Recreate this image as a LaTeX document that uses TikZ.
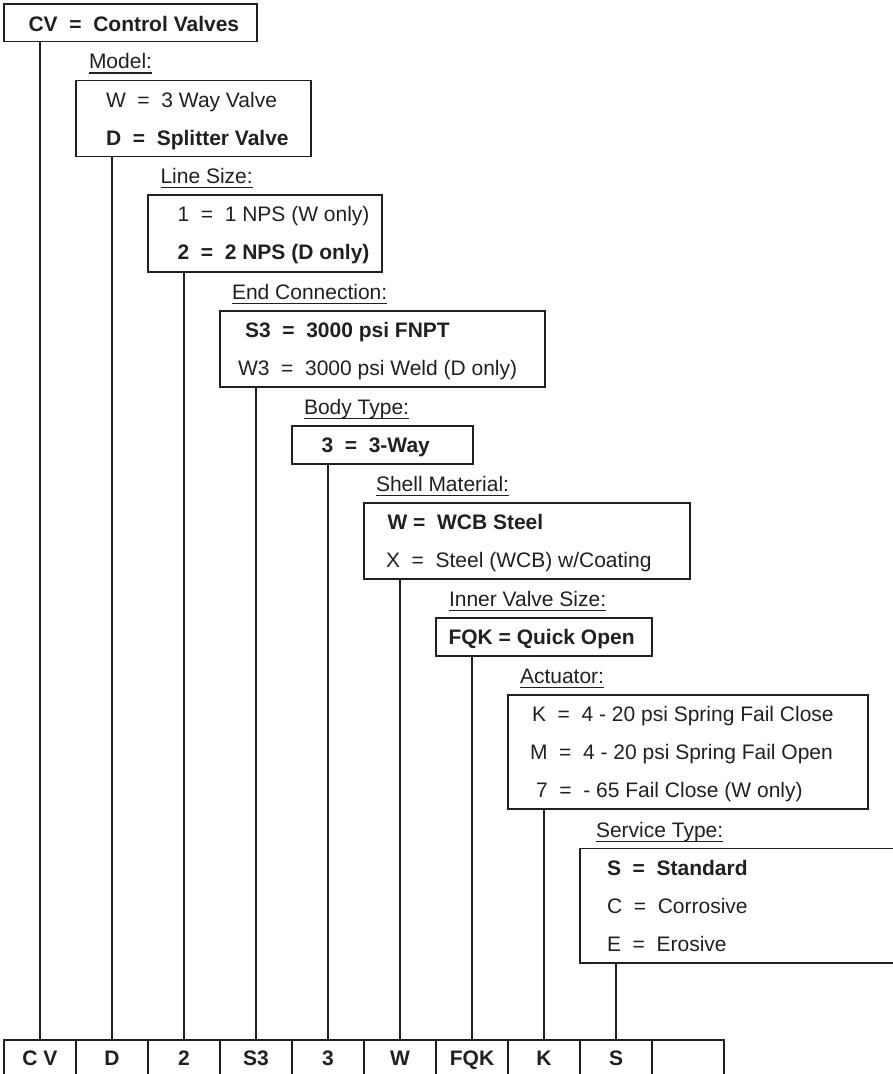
\documentclass[tikz,border=0pt]{standalone}
\usepackage{fontspec}
\setmainfont{Liberation Sans}
\definecolor{ink}{HTML}{231F20}
\newcommand\ulab[1]{\setbox0\hbox{#1}\rlap{\rule[-5pt]{\wd0}{1.2pt}}\box0}
\newcommand\eq{\ \ =\ \ }
\begin{document}
\begin{tikzpicture}[x=1pt,y=-1pt,
  every node/.style={font=\fontsize{21}{25}\selectfont, text=ink, inner sep=0pt, outer sep=0pt},
  box/.style={draw=ink, line width=1.2pt, anchor=north west},
  opbox/.style={anchor=north west},
  cell/.style={draw=ink, line width=1.2pt, anchor=north west, minimum width=72, minimum height=36, text height=15, text depth=0pt, font=\fontsize{21}{25}\selectfont\bfseries},
  txt/.style={anchor=base west},
  lab/.style={anchor=base west},
  wire/.style={draw=ink, line width=1.2pt}]
\useasboundingbox (0,0) rectangle (893,1074);

% boxes
\node[box, minimum width=253, minimum height=37.5] (b1) at (4,4) {};
\node[txt] (t1) at (28.5,31.5) {\bfseries CV\eq Control Valves};

\node[lab] (l2) at (89,68.5) {\ulab{Model:}};
\node[box, minimum width=235, minimum height=76] (b2) at (76,80.5) {};
\node[txt] (t2a) at (106,107) {W\eq 3 Way Valve};
\node[txt] (t2b) at (106,145) {\bfseries D\eq Splitter Valve};

\node[lab] (l3) at (160.5,183) {\ulab{Line Size:}};
\node[box, minimum width=234, minimum height=77] (b3) at (148,195) {};
\node[txt] (t3a) at (177.5,221.5) {1\eq 1 NPS (W only)};
\node[txt] (t3b) at (177.5,259.5) {\bfseries 2\eq 2 NPS (D only)};

\node[lab] (l4) at (232,299) {\ulab{End Connection:}};
\node[box, minimum width=325, minimum height=76] (b4) at (220,311) {};
\node[txt] (t4a) at (245,337.5) {\bfseries S3\eq 3000 psi FNPT};
\node[txt] (t4b) at (238,375.5) {W3\eq 3000 psi Weld (D only)};

\node[lab] (l5) at (304,414) {\ulab{Body Type:}};
\node[box, minimum width=181, minimum height=38] (b5) at (292,426) {};
\node[txt] (t5) at (321.5,452.5) {\bfseries 3\eq 3-Way};

\node[lab] (l6) at (376,491) {\ulab{Shell Material:}};
\node[box, minimum width=326, minimum height=76] (b6) at (364,503) {};
\node[txt] (t6a) at (387.5,529.5) {\bfseries W =\ \ WCB Steel};
\node[txt] (t6b) at (386,567.5) {X\eq Steel (WCB) w/Coating};

\node[lab] (l7) at (449,606) {\ulab{Inner Valve Size:}};
\node[box, minimum width=216, minimum height=38] (b7) at (436,618) {};
\node[txt] (t7) at (448.5,644.5) {\bfseries FQK = Quick Open};

\node[lab] (l8) at (520,683) {\ulab{Actuator:}};
\node[box, minimum width=360, minimum height=114] (b8) at (508,695) {};
\node[txt] (t8a) at (532,721.5) {K\eq 4 - 20 psi Spring Fail Close};
\node[txt] (t8b) at (530,759.5) {M\eq 4 - 20 psi Spring Fail Open};
\node[txt] (t8c) at (536,797.5) {7\eq - 65 Fail Close (W only)};

\node[lab] (l9) at (596,837) {\ulab{Service Type:}};
\node[opbox, minimum width=320, minimum height=114.5] (b9) at (580,848.5) {};
\draw[wire] (b9.north east) -- (b9.north west) -- (b9.south west) -- (b9.south east);
\node[txt] (t9a) at (607,875) {\bfseries S\eq Standard};
\node[txt] (t9b) at (607,913) {C\eq Corrosive};
\node[txt] (t9c) at (607,951) {E\eq Erosive};

% bottom cells
\node[cell] (c1) at (4,1040) {C V};
\node[cell] (c2) at (76,1040) {D};
\node[cell] (c3) at (148,1040) {2};
\node[cell] (c4) at (220,1040) {S3};
\node[cell] (c5) at (292,1040) {3};
\node[cell] (c6) at (364,1040) {W};
\node[cell] (c7) at (436,1040) {FQK};
\node[cell] (c8) at (508,1040) {K};
\node[cell] (c9) at (580,1040) {S};
\node[cell] (c10) at (652,1040) {};

% connectors
\draw[wire] (b1.south -| c1.north) -- (c1.north);
\draw[wire] (b2.south -| c2.north) -- (c2.north);
\draw[wire] (b3.south -| c3.north) -- (c3.north);
\draw[wire] (b4.south -| c4.north) -- (c4.north);
\draw[wire] (b5.south -| c5.north) -- (c5.north);
\draw[wire] (b6.south -| c6.north) -- (c6.north);
\draw[wire] (b7.south -| c7.north) -- (c7.north);
\draw[wire] (b8.south -| c8.north) -- (c8.north);
\draw[wire] (b9.south -| c9.north) -- (c9.north);
\end{tikzpicture}
\end{document}
